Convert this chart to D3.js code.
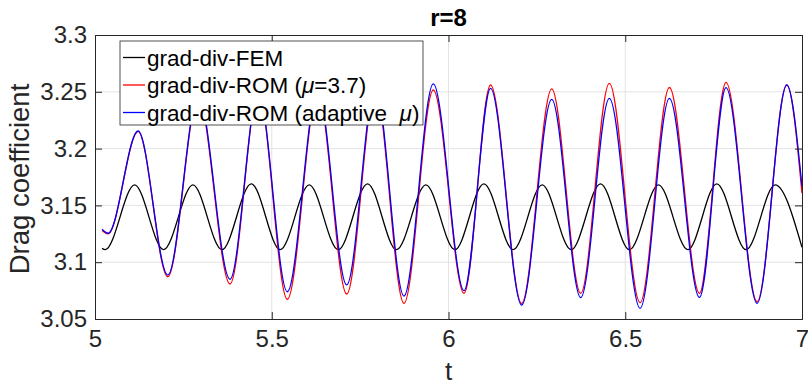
<!DOCTYPE html>
<html>
<head>
<meta charset="utf-8">
<script src="https://cdn.jsdelivr.net/npm/d3@7"></script>
<style>
  body { margin: 0; background: #fff; }
  text { font-family: "Liberation Sans", Arial, sans-serif; fill: #262626; }
</style>
</head>
<body>
<script>
// FEM drag coefficient: start, alternating troughs/peaks, end
var femT  = [5.020, 5.029, 5.112, 5.194, 5.277, 5.359, 5.442, 5.524, 5.606, 5.688, 5.771, 5.853, 5.936,
             6.018, 6.100, 6.183, 6.265, 6.347, 6.430, 6.512, 6.594, 6.677, 6.759, 6.842, 6.924, 7.000];
var femCd = [3.1122, 3.111, 3.168, 3.111, 3.168, 3.111, 3.169, 3.111, 3.168, 3.111, 3.169, 3.111, 3.168,
             3.111, 3.169, 3.111, 3.168, 3.111, 3.169, 3.111, 3.168, 3.111, 3.169, 3.111, 3.168, 3.113];

// ROM curves: start, alternating troughs/peaks, end
var romT       = [5.020, 5.037, 5.122, 5.206, 5.292, 5.382, 5.462, 5.544, 5.630, 5.712, 5.793, 5.874, 5.957,
                  6.044, 6.119, 6.207, 6.292, 6.374, 6.455, 6.542, 6.625, 6.710, 6.785, 6.873, 6.957, 7.000];
var romFixed   = [3.128, 3.125, 3.215, 3.0872, 3.245, 3.0808, 3.250, 3.0673, 3.250, 3.072, 3.252, 3.0638, 3.2516,
                  3.0726, 3.256, 3.0638, 3.2525, 3.0726, 3.2575, 3.0644, 3.2538, 3.0726, 3.2583, 3.0653, 3.256, 3.1607];
var romAdapt   = [3.129, 3.1255, 3.2155, 3.0887, 3.247, 3.085, 3.250, 3.074, 3.252, 3.080, 3.255, 3.0702, 3.2569,
                  3.075, 3.253, 3.0623, 3.2434, 3.0688, 3.2443, 3.0594, 3.2443, 3.069, 3.2536, 3.0638, 3.256, 3.1665];

var xTicks = [5, 5.5, 6, 6.5, 7];
var yTicks = [3.05, 3.1, 3.15, 3.2, 3.25, 3.3];

var w = 808, h = 385;
var margin = {top: 35, right: 6, bottom: 66, left: 95};
var axisColor = "#262626";

var svg = d3.select("body").append("svg")
    .attr("width", w).attr("height", h);

var xScale = d3.scaleLinear().domain([5, 7]).range([margin.left, w - margin.right]);
var yScale = d3.scaleLinear().domain([3.05, 3.3]).range([h - margin.bottom, margin.top]);

// grid
svg.append("g").selectAll("line").data(xTicks.slice(1, -1)).enter().append("line")
   .attr("x1", function(d){ return xScale(d); }).attr("x2", function(d){ return xScale(d); })
   .attr("y1", margin.top).attr("y2", h - margin.bottom)
   .attr("stroke", "#e3e3e3").attr("stroke-width", 1);
svg.append("g").selectAll("line").data(yTicks.slice(1, -1)).enter().append("line")
   .attr("y1", function(d){ return yScale(d); }).attr("y2", function(d){ return yScale(d); })
   .attr("x1", margin.left).attr("x2", w - margin.right)
   .attr("stroke", "#e3e3e3").attr("stroke-width", 1);

// curves
var line = function(ts, vs) {
  return d3.line()
    .x(function(d, i){ return xScale(ts[i]); })
    .y(function(d){ return yScale(d); })
    .curve(d3.curveMonotoneX)(vs);
};

svg.append("path").attr("d", line(femT, femCd))
   .attr("fill", "none").attr("stroke", "#000").attr("stroke-width", 1.3);
svg.append("path").attr("d", line(romT, romFixed))
   .attr("fill", "none").attr("stroke", "#ff0000").attr("stroke-width", 1.3);
svg.append("path").attr("d", line(romT, romAdapt))
   .attr("fill", "none").attr("stroke", "#0000ff").attr("stroke-width", 1.3);

// axes
var styleAxis = function(g) {
  g.select(".domain").attr("stroke", axisColor);
  g.selectAll(".tick line").attr("stroke", axisColor);
  g.selectAll(".tick text").attr("fill", axisColor)
   .style("font-size", "24px").style("font-family", "Liberation Sans, Arial, sans-serif");
};

svg.append("g")
   .attr("transform", "translate(0," + (h - margin.bottom) + ")")
   .call(d3.axisBottom(xScale).tickValues(xTicks).tickSize(-7).tickPadding(11)
         .tickFormat(function(d){ return String(d); }))
   .call(styleAxis);
svg.append("g")
   .attr("transform", "translate(0," + margin.top + ")")
   .call(d3.axisTop(xScale).tickValues(xTicks).tickSize(-7).tickFormat(""))
   .call(styleAxis);
svg.append("g")
   .attr("transform", "translate(" + margin.left + ",0)")
   .call(d3.axisLeft(yScale).tickValues(yTicks).tickSize(-7).tickPadding(8)
         .tickFormat(function(d){ return String(d); }))
   .call(styleAxis);
svg.append("g")
   .attr("transform", "translate(" + (w - margin.right) + ",0)")
   .call(d3.axisRight(yScale).tickValues(yTicks).tickSize(-7).tickFormat(""))
   .call(styleAxis);

// labels
svg.append("text").attr("x", (margin.left + w - margin.right) / 2).attr("y", 26)
   .attr("text-anchor", "middle").style("font-size", "24px").style("font-weight", "bold")
   .style("fill", "#000").text("r=8");
svg.append("text").attr("x", (margin.left + w - margin.right) / 2).attr("y", 380)
   .attr("text-anchor", "middle").style("font-size", "26px").text("t");
svg.append("text")
   .attr("transform", "translate(29,179) rotate(-90)")
   .attr("text-anchor", "middle").style("font-size", "27.5px").text("Drag coefficient");

// legend
var legendItems = [
  {color: "#000", parts: [["grad-div-FEM", false]]},
  {color: "#ff0000", parts: [["grad-div-ROM (", false], ["\u03bc", true], ["=3.7)", false]]},
  {color: "#0000ff", parts: [["grad-div-ROM (adaptive\u00a0\u00a0", false], ["\u03bc", true], [")", false]]}
];
var legend = svg.append("g");
legend.append("rect").attr("x", 120).attr("y", 41).attr("width", 303).attr("height", 84)
   .attr("fill", "#fff").attr("stroke", axisColor).attr("stroke-width", 0.8);
legendItems.forEach(function(item, i) {
  var yy = 57.5 + i * 27.5;
  legend.append("line").attr("x1", 123).attr("x2", 145).attr("y1", yy).attr("y2", yy)
        .attr("stroke", item.color).attr("stroke-width", 1.3);
  var t = legend.append("text").attr("x", 147).attr("y", yy).attr("dy", "0.36em")
        .style("font-size", "22.5px").style("fill", "#000");
  item.parts.forEach(function(p) {
    t.append("tspan").text(p[0]).style("font-style", p[1] ? "italic" : "normal");
  });
});
</script>
</body>
</html>
